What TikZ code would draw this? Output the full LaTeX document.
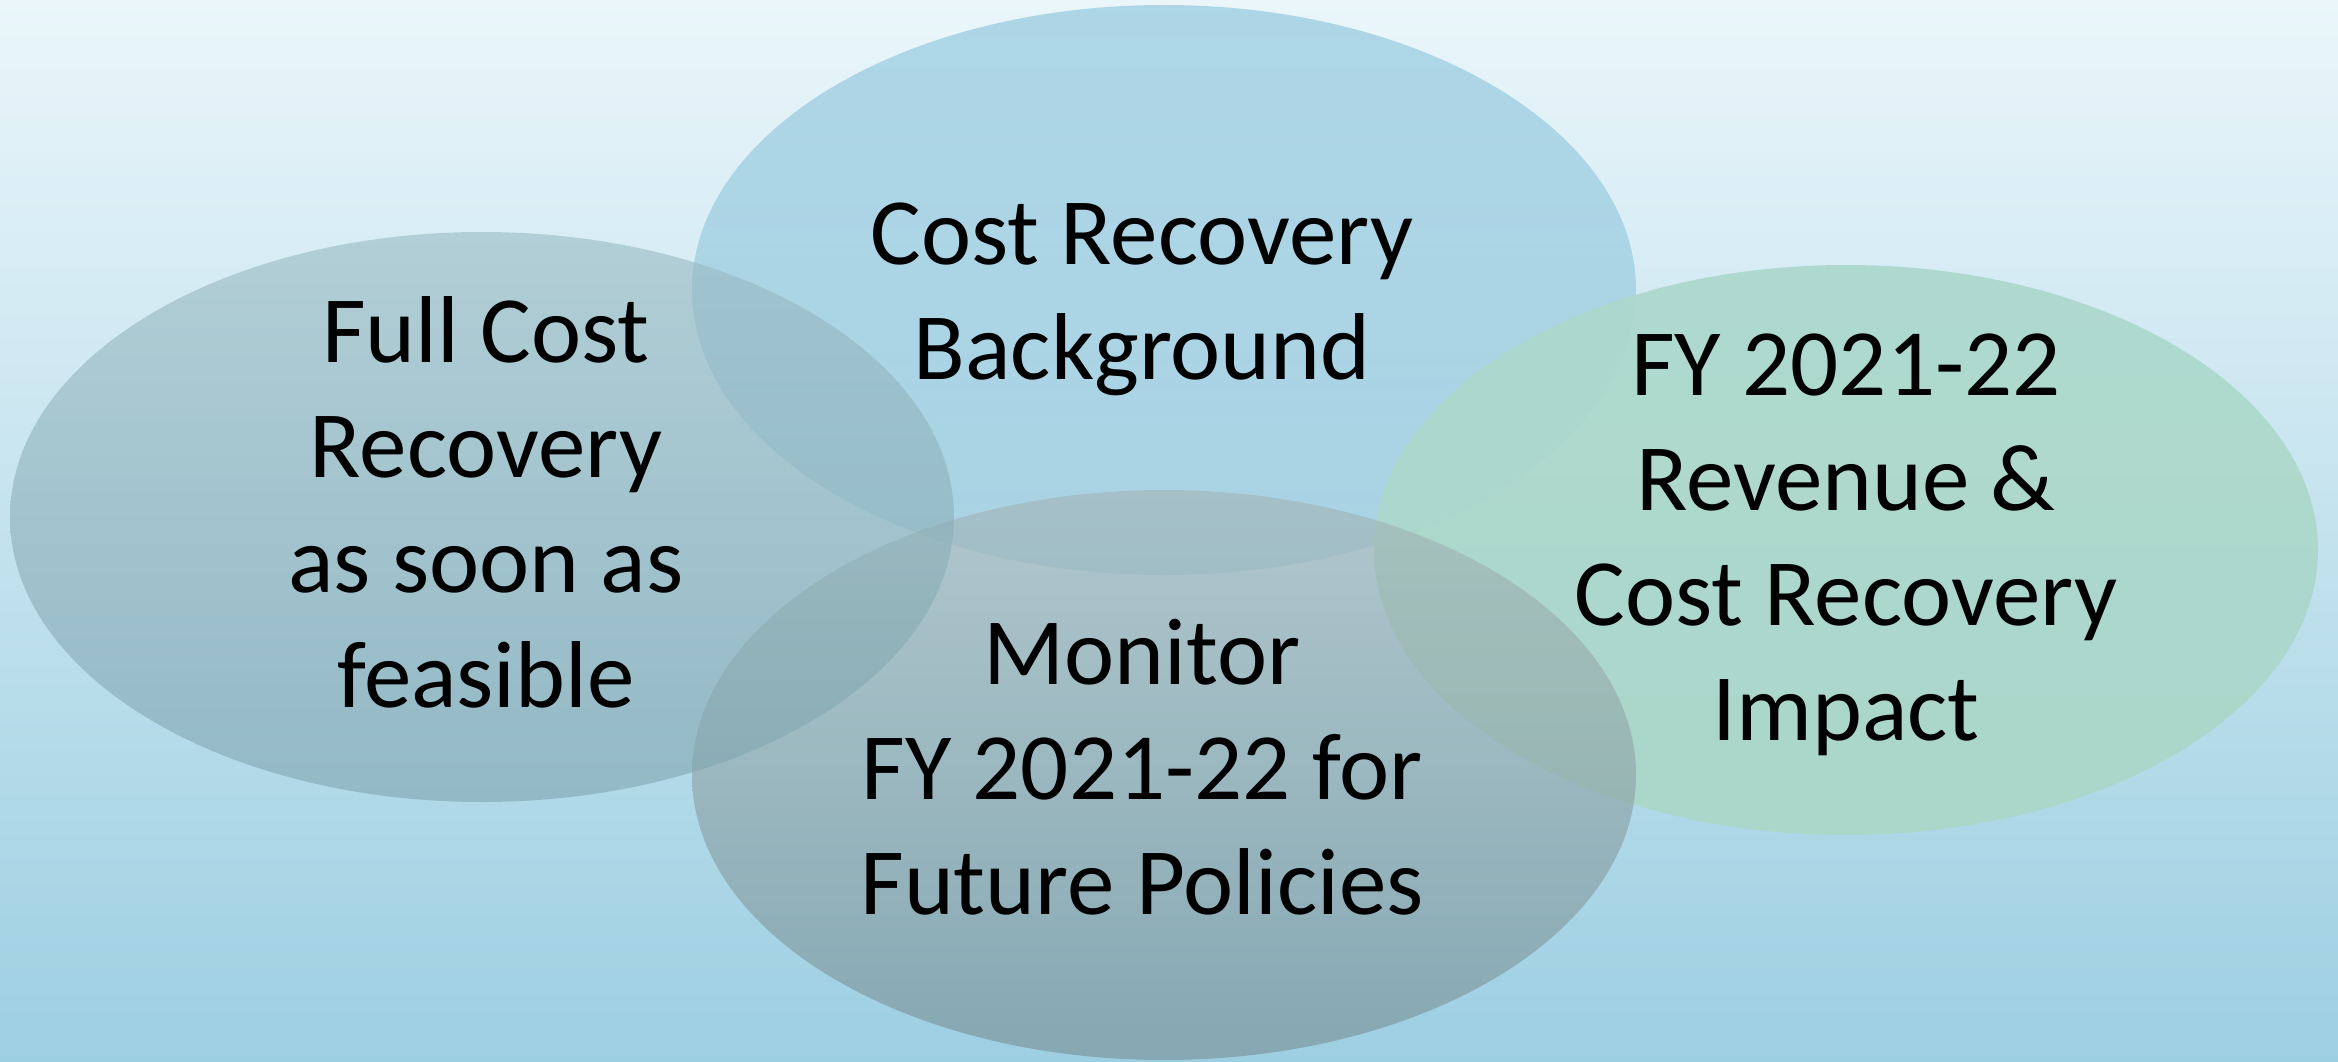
\documentclass[tikz,border=0pt]{standalone}
\usepackage{fontspec}
\setmainfont{Carlito}
\definecolor{bgtop}{HTML}{EAF6FA}
\definecolor{bgbot}{HTML}{9DCFE2}
\definecolor{topA}{HTML}{86C1DA}
\definecolor{topB}{HTML}{9ACADE}
\definecolor{rightA}{HTML}{ACD8CB}
\definecolor{rightB}{HTML}{ABD7C9}
\definecolor{botA}{HTML}{A3B4B6}
\definecolor{botB}{HTML}{768E93}
\definecolor{leftA}{HTML}{99BAC2}
\definecolor{leftB}{HTML}{7FA5AF}
\tikzset{
  venn/.style={fill opacity=0.6},
  vennstrong/.style={fill opacity=0.92},
  lbl/.style={anchor=base, inner sep=0pt, text=black,
    font=\fontsize{95}{115}\selectfont}
}
\newcommand{\vlines}[1]{\begin{tabular}[t]{@{}c@{}}#1\end{tabular}}
\begin{document}
\begin{tikzpicture}[x=1pt,y=-1pt]
\shade[top color=bgtop, bottom color=bgbot] (0,0) rectangle (2338,1062);
\useasboundingbox (0,0) rectangle (2338,1062);
% ellipses (drawing order: top, right, bottom, left)
\shade[venn, top color=topA, bottom color=topB] (1164,290) ellipse [x radius=472, y radius=285];
\shade[vennstrong, top color=rightA, bottom color=rightB] (1846,550) ellipse [x radius=472, y radius=285];
\shade[venn, top color=botA, bottom color=botB] (1164,775) ellipse [x radius=472, y radius=285];
\shade[venn, top color=leftA, bottom color=leftB] (482,517) ellipse [x radius=472, y radius=285];
% labels
\node[lbl] (ttop) at (1142,264) {\vlines{Cost Recovery\\Background}};
\node[lbl] (tleft) at (486,362) {\vlines{Full Cost\\Recovery\\as soon as\\feasible}};
\node[lbl] (tright) at (1846,395) {\vlines{FY 2021-22\\Revenue \&\\Cost Recovery\\Impact}};
\node[lbl] (tbot) at (1142,684) {\vlines{Monitor\\FY 2021-22 for\\Future Policies}};
\end{tikzpicture}
\end{document}
